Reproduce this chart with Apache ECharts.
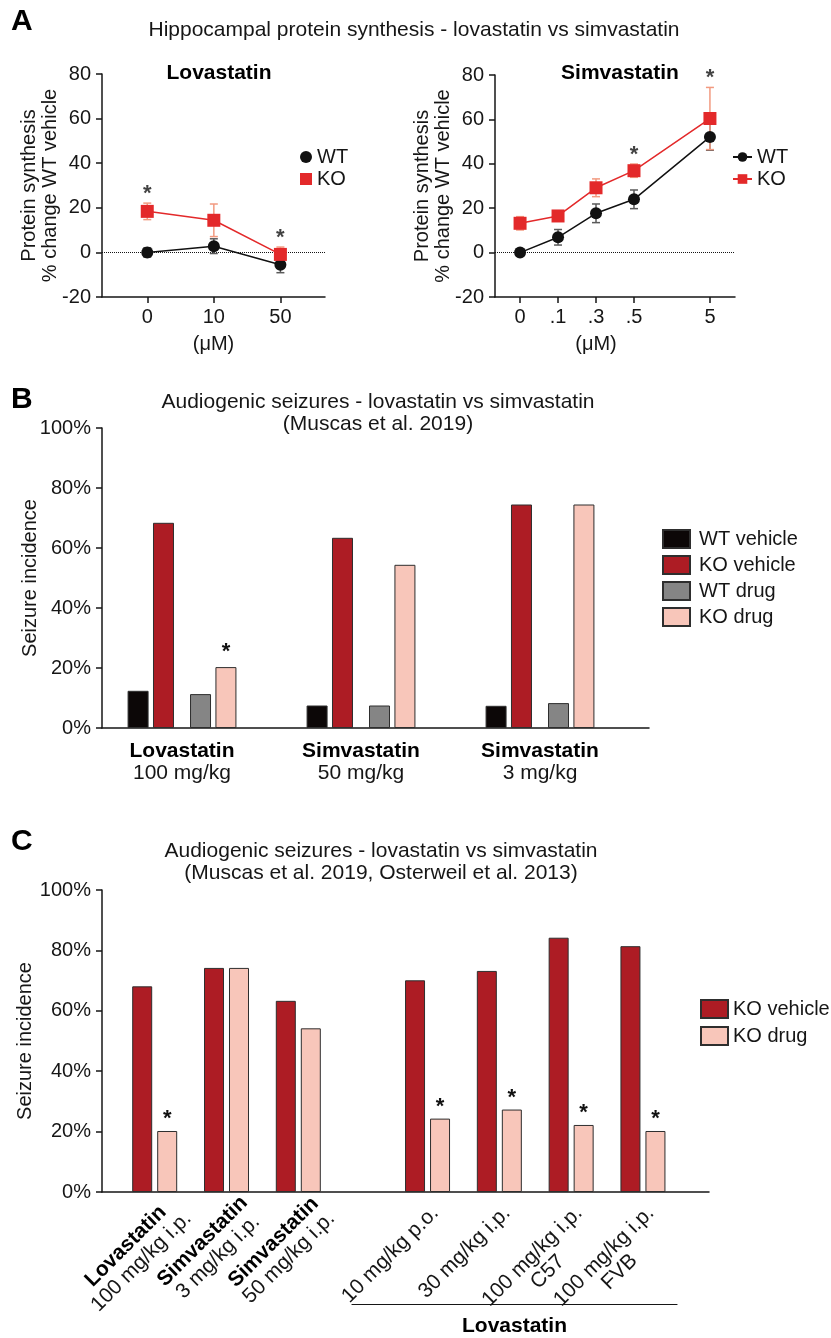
<!DOCTYPE html>
<html><head><meta charset="utf-8">
<script src="https://cdn.jsdelivr.net/npm/echarts@6/dist/echarts.min.js"></script>
<style>html,body{margin:0;padding:0;background:#fff}#c{width:831px;height:1338px}</style>
</head><body><div id="c"></div>
<script>
// ---------------- DATA ----------------
// Panel A – Lovastatin
const lovaDoses = ['0', '10', '50'];
const lovaWT    = [0, 2.8, -5.5];
const lovaWTErr = [2.1, 3.3, 3.6];
const lovaKO    = [18.4, 14.4, -0.9];
const lovaKOErr = [3.7, 7.3, 3.3];
const lovaSig   = [true, false, true];
// Panel A – Simvastatin ('' = empty slot on the axis)
const simvDoses = ['0', '.1', '.3', '.5', '', '5'];
const simvWT    = [0, 6.9, 17.7, 24.0, null, 52.1];
const simvWTErr = [0.6, 3.5, 4.2, 4.2, null, 6.0];
const simvKO    = [13.2, 16.5, 29.2, 36.9, null, 60.4];
const simvKOErr = [3.0, 1.8, 4.0, 3.0, null, 14.0];
const simvSig   = [false, false, false, true, false, true];
// Panel B
const bDrug    = ['Lovastatin', 'Simvastatin', 'Simvastatin'];
const bDose    = ['100 mg/kg', '50 mg/kg', '3 mg/kg'];
const bWTveh   = [12.4, 7.5, 7.4];
const bKOveh   = [68.4, 63.4, 74.5];
const bWTdrug  = [11.3, 7.5, 8.3];
const bKOdrug  = [20.3, 54.4, 74.5];
const bSig     = [true, false, false];
// Panel C
const cDrug    = ['Lovastatin', 'Simvastatin', 'Simvastatin', '', '', '', ''];
const cDose    = ['100 mg/kg i.p.', '3 mg/kg i.p.', '50 mg/kg i.p.', '10 mg/kg p.o.', '30 mg/kg i.p.', '100 mg/kg i.p.', '100 mg/kg i.p.'];
const cStrain  = ['', '', '', '', '', 'C57', 'FVB'];
const cKOveh   = [68.1, 74.2, 63.3, 70.1, 73.2, 84.2, 81.4];
const cKOdrug  = [20.2, 74.2, 54.2, 24.3, 27.3, 22.2, 20.2];
const cSig     = [true, false, false, true, true, true, true];

// ---------------- STYLE / LAYOUT ----------------
const FONT = "'Liberation Sans', Arial, Helvetica, sans-serif";
const INK = '#161616';
const C_WT = '#111111', C_KO = '#e3292a', C_WT_ERR = '#5a5a5a', C_KO_ERR = '#f29a80';
const C_WTVEH = '#0c0707', C_KOVEH = '#ad1c24', C_WTDRUG = '#858585', C_KODRUG = '#f8c6ba';
const BORDER = '#2e2e2e';
const C_SPLIT = 3, C_SPLIT_GAP = 0.8;
const STAR = { fontSize: 22, fontWeight: 'bold', color: '#111' };

const axisLine = { show: true, onZero: false, lineStyle: { color: INK, width: 1.5 } };
const axisTick = { show: true, length: 6, lineStyle: { color: INK, width: 1.5 } };

const lovaX = lovaDoses.map((d, i) => i);
const simvX = simvDoses.map((d, i) => i);
const bX = bDrug.map((d, i) => i);
const cX = cDose.map((d, i) => i + (i >= C_SPLIT ? C_SPLIT_GAP : 0));
const cXDrug = cX.filter((x, i) => cDrug[i] !== '');
const cXPlain = cX.filter((x, i) => cDrug[i] === '');

function pts(xs, ys) { const o = []; xs.forEach((x, i) => { if (ys[i] != null) o.push([x, ys[i]]); }); return o; }
function errs(xs, ys, es) { const o = []; xs.forEach((x, i) => { if (ys[i] != null) o.push([x, ys[i] - es[i], ys[i] + es[i]]); }); return o; }
function stars(xs, ys, es, sig) { const o = []; xs.forEach((x, i) => { if (sig[i]) o.push([x, ys[i] + es[i]]); }); return o; }

function errRender(color) {
  return function (params, api) {
    const x = api.value(0), lo = api.value(1), hi = api.value(2);
    const a = api.coord([x, lo]), b = api.coord([x, hi]);
    const hw = 4, st = { stroke: color, lineWidth: 1.5 };
    return { type: 'group', children: [
      { type: 'line', shape: { x1: a[0], y1: a[1], x2: b[0], y2: b[1] }, style: st },
      { type: 'line', shape: { x1: a[0] - hw, y1: a[1], x2: a[0] + hw, y2: a[1] }, style: st },
      { type: 'line', shape: { x1: b[0] - hw, y1: b[1], x2: b[0] + hw, y2: b[1] }, style: st }
    ] };
  };
}

function aYAxis(g) {
  return {
    gridIndex: g, type: 'value', min: -20, max: 80, interval: 20,
    axisLine, axisTick, splitLine: { show: false },
    axisLabel: { fontSize: 20, color: INK, margin: 11 },
    name: 'Protein synthesis\n% change WT vehicle', nameLocation: 'middle', nameRotate: 90, nameGap: 41,
    nameMoveOverlap: false,
    nameTextStyle: { fontSize: 20, color: INK, lineHeight: 21 }
  };
}
function pctYAxis(g, gap) {
  return {
    gridIndex: g, type: 'value', min: 0, max: 100, interval: 20,
    axisLine, axisTick, splitLine: { show: false },
    axisLabel: { fontSize: 20, color: INK, margin: 11, formatter: '{value}%' },
    name: 'Seizure incidence', nameLocation: 'middle', nameRotate: 90, nameGap: gap,
    nameMoveOverlap: false,
    nameTextStyle: { fontSize: 20, color: INK }
  };
}

function lineSeries(name, g, xs, ys, color, symbol, size, withZero) {
  const s = {
    type: 'line', name, xAxisIndex: g, yAxisIndex: g, data: pts(xs, ys),
    symbol, symbolSize: size, color, itemStyle: { color },
    lineStyle: { color, width: 1.5 }, z: 4
  };
  if (withZero) s.markLine = {
    silent: true, symbol: ['none', 'none'], label: { show: false },
    lineStyle: { type: 'dotted', color: INK, width: 1 }, data: [{ yAxis: 0 }], z: 1
  };
  return s;
}
function errSeries(g, xs, ys, es, color) {
  return { type: 'custom', xAxisIndex: g, yAxisIndex: g, data: errs(xs, ys, es),
    encode: { x: 0, y: [1, 2] }, renderItem: errRender(color), z: 3, silent: true };
}
function starSeries(g, xs, ys, es, sig) {
  return { type: 'scatter', xAxisIndex: g, yAxisIndex: g, data: stars(xs, ys, es, sig),
    symbolSize: 1, itemStyle: { color: 'rgba(0,0,0,0)' }, silent: true,
    label: Object.assign({ show: true, formatter: '*', position: 'top', distance: -2 }, STAR) };
}
function barSeries(name, g, xs, ys, color, width, sig, dist) {
  const s = { type: 'bar', name, xAxisIndex: g, yAxisIndex: g, data: pts(xs, ys),
    barWidth: width, barGap: g === 2 ? '21%' : '25%',
    itemStyle: { color, borderColor: BORDER, borderWidth: 1 } };
  if (sig) s.label = Object.assign({ show: true, position: 'top', distance: dist,
    formatter: p => (sig[p.dataIndex] ? '*' : '') }, STAR);
  return s;
}

const cIndex = v => cX.findIndex(x => Math.abs(x - v) < 1e-6);
const cLabelPlain = v => {
  const i = cIndex(v);
  if (i < 0) return '';
  if (cStrain[i]) return '{n|' + cDose[i] + '}\n{n|' + cStrain[i] + '}';
  return '{n|' + cDose[i] + '}';
};
const cLabelDrug = v => {
  const i = cIndex(v);
  if (i < 0) return '';
  return '{b|' + cDrug[i] + '}\n{n|' + cDose[i] + '}';
};
const cRich = {
  b: { fontSize: 21, fontWeight: 'bold', color: '#000', lineHeight: 22, align: 'center', fontFamily: FONT },
  n: { fontSize: 21, color: INK, lineHeight: 22, align: 'center', fontFamily: FONT }
};

const option = {
  backgroundColor: '#ffffff',
  animation: false,
  textStyle: { fontFamily: FONT, color: INK },
  title: [
    { text: 'A', left: 6, top: 2, textStyle: { fontSize: 30, fontWeight: 'bold', color: '#000', fontFamily: FONT } },
    { text: 'Hippocampal protein synthesis - lovastatin vs simvastatin', left: 409, textAlign: 'center', top: 15,
      textStyle: { fontSize: 21, fontWeight: 'normal', color: INK, fontFamily: FONT } },
    { text: 'Lovastatin', left: 214, textAlign: 'center', top: 58, textStyle: { fontSize: 21, fontWeight: 'bold', color: '#000', fontFamily: FONT } },
    { text: 'Simvastatin', left: 615, textAlign: 'center', top: 58, textStyle: { fontSize: 21, fontWeight: 'bold', color: '#000', fontFamily: FONT } },
    { text: 'B', left: 6, top: 380, textStyle: { fontSize: 30, fontWeight: 'bold', color: '#000', fontFamily: FONT } },
    { text: 'Audiogenic seizures - lovastatin vs simvastatin\n(Muscas et al. 2019)', left: 373, textAlign: 'center', top: 386,
      textStyle: { fontSize: 21, fontWeight: 'normal', color: INK, lineHeight: 22, fontFamily: FONT } },
    { text: 'C', left: 6, top: 822, textStyle: { fontSize: 30, fontWeight: 'bold', color: '#000', fontFamily: FONT } },
    { text: 'Audiogenic seizures - lovastatin vs simvastatin\n(Muscas et al. 2019, Osterweil et al. 2013)', left: 376, textAlign: 'center', top: 835,
      textStyle: { fontSize: 21, fontWeight: 'normal', color: INK, lineHeight: 22, fontFamily: FONT } }
  ],
  legend: [
    { data: [{ name: 'WT', icon: 'circle' }, { name: 'KO', icon: 'rect' }], orient: 'vertical', left: 295, top: 142,
      itemWidth: 12, itemHeight: 12, itemGap: 2, textStyle: { fontSize: 20, color: INK }, selectedMode: false },
    { data: ['WT', 'KO'], orient: 'vertical', left: 727, top: 142,
      itemWidth: 19, itemHeight: 12, itemGap: 2, textStyle: { fontSize: 20, color: INK }, selectedMode: false },
    { data: ['WT vehicle', 'KO vehicle', 'WT drug', 'KO drug'], orient: 'vertical', left: 657, top: 524, icon: 'rect',
      itemWidth: 27, itemHeight: 18, itemGap: 6, textStyle: { fontSize: 20, color: INK, padding: [0, 0, 0, 4] }, selectedMode: false },
    { data: ['KO vehicle', 'KO drug'], orient: 'vertical', left: 695, top: 994, icon: 'rect',
      itemWidth: 27, itemHeight: 18, itemGap: 7, textStyle: { fontSize: 20, color: INK }, selectedMode: false }
  ],
  grid: [
    { left: 102, top: 74, width: 223, height: 223, outerBoundsMode: 'none' },
    { left: 495, top: 75, width: 240, height: 222, outerBoundsMode: 'none' },
    { left: 102, top: 428, width: 547, height: 300, outerBoundsMode: 'none' },
    { left: 102, top: 890, width: 607, height: 302, outerBoundsMode: 'none' },
    { left: 352, top: 1303, width: 325, height: 1, outerBoundsMode: 'none' }
  ],
  xAxis: [
    { gridIndex: 0, type: 'value', min: -0.68, max: 2.67, axisLine, splitLine: { show: false },
      axisTick: Object.assign({ customValues: lovaX }, axisTick),
      axisLabel: { customValues: lovaX, formatter: v => lovaDoses[Math.round(v)], fontSize: 20, color: INK, margin: 10 },
      name: '(μM)', nameLocation: 'middle', nameGap: 37, nameTextStyle: { fontSize: 20, color: INK } },
    { gridIndex: 1, type: 'value', min: -0.66, max: 5.66, axisLine, splitLine: { show: false },
      axisTick: Object.assign({ customValues: simvX.filter(i => simvDoses[i] !== '') }, axisTick),
      axisLabel: { customValues: simvX.filter(i => simvDoses[i] !== ''), formatter: v => simvDoses[Math.round(v)], fontSize: 20, color: INK, margin: 10 },
      name: '(μM)', nameLocation: 'middle', nameGap: 37, nameTextStyle: { fontSize: 20, color: INK, padding: [0, 38, 0, 0] } },
    { gridIndex: 2, type: 'value', min: -0.447, max: 2.609, axisLine, splitLine: { show: false }, axisTick: { show: false },
      axisLabel: { customValues: bX, margin: 12, formatter: v => { const i = Math.round(v); return '{b|' + bDrug[i] + '}\n{n|' + bDose[i] + '}'; },
        rich: { b: { fontSize: 21, fontWeight: 'bold', color: '#000', lineHeight: 22, fontFamily: FONT }, n: { fontSize: 21, color: INK, lineHeight: 22, fontFamily: FONT } } } },
    { gridIndex: 3, type: 'value', position: 'bottom', min: -0.734, max: 7.72, axisLine, splitLine: { show: false }, axisTick: { show: false },
      axisLabel: { customValues: cXPlain, margin: 10, rotate: 45, verticalAlign: 'top', formatter: cLabelPlain, rich: cRich } },
    { gridIndex: 4, type: 'value', min: 0, max: 1, axisLine: { show: true, lineStyle: { color: INK, width: 1.2 } },
      axisTick: { show: false }, axisLabel: { show: false }, splitLine: { show: false },
      name: 'Lovastatin', nameLocation: 'middle', nameGap: 12, nameTextStyle: { fontSize: 21, fontWeight: 'bold', color: '#000' } },
    { gridIndex: 3, type: 'value', position: 'bottom', min: -0.734, max: 7.72, axisLine: { show: false, onZero: false }, splitLine: { show: false }, axisTick: { show: false },
      axisLabel: { customValues: cXDrug, margin: -10, rotate: 45, verticalAlign: 'top', padding: [14, 0, 0, 0], formatter: cLabelDrug, rich: cRich } }
  ],
  yAxis: [
    aYAxis(0), aYAxis(1), pctYAxis(2, 62), pctYAxis(3, 67),
    { gridIndex: 4, type: 'value', show: false, min: 0, max: 1 }
  ],
  series: [
    // A left
    lineSeries('WT', 0, lovaX, lovaWT, C_WT, 'circle', 12, true),
    errSeries(0, lovaX, lovaWT, lovaWTErr, C_WT_ERR),
    errSeries(0, lovaX, lovaKO, lovaKOErr, C_KO_ERR),
    lineSeries('KO', 0, lovaX, lovaKO, C_KO, 'rect', 13, false),
    starSeries(0, lovaX, lovaKO, lovaKOErr, lovaSig),
    // A right
    lineSeries('WT', 1, simvX, simvWT, C_WT, 'circle', 12, true),
    errSeries(1, simvX, simvWT, simvWTErr, C_WT_ERR),
    errSeries(1, simvX, simvKO, simvKOErr, C_KO_ERR),
    lineSeries('KO', 1, simvX, simvKO, C_KO, 'rect', 13, false),
    starSeries(1, simvX, simvKO, simvKOErr, simvSig),
    // B
    barSeries('WT vehicle', 2, bX, bWTveh, C_WTVEH, 21),
    barSeries('KO vehicle', 2, bX, bKOveh, C_KOVEH, 21),
    { type: 'bar', name: 'spacer', xAxisIndex: 2, yAxisIndex: 2, barWidth: 9.6, barGap: '21%', data: bX.map(x => [x, 0]), itemStyle: { color: 'rgba(0,0,0,0)' }, silent: true },
    barSeries('WT drug', 2, bX, bWTdrug, C_WTDRUG, 21),
    barSeries('KO drug', 2, bX, bKOdrug, C_KODRUG, 21, bSig, 4),
    // C
    barSeries('KO vehicle', 3, cX, cKOveh, C_KOVEH, 20),
    barSeries('KO drug', 3, cX, cKOdrug, C_KODRUG, 20, cSig, 1)
  ]
};

const chart = echarts.init(document.getElementById('c'), null, { renderer: 'canvas' });
chart.setOption(option);
</script></body></html>
